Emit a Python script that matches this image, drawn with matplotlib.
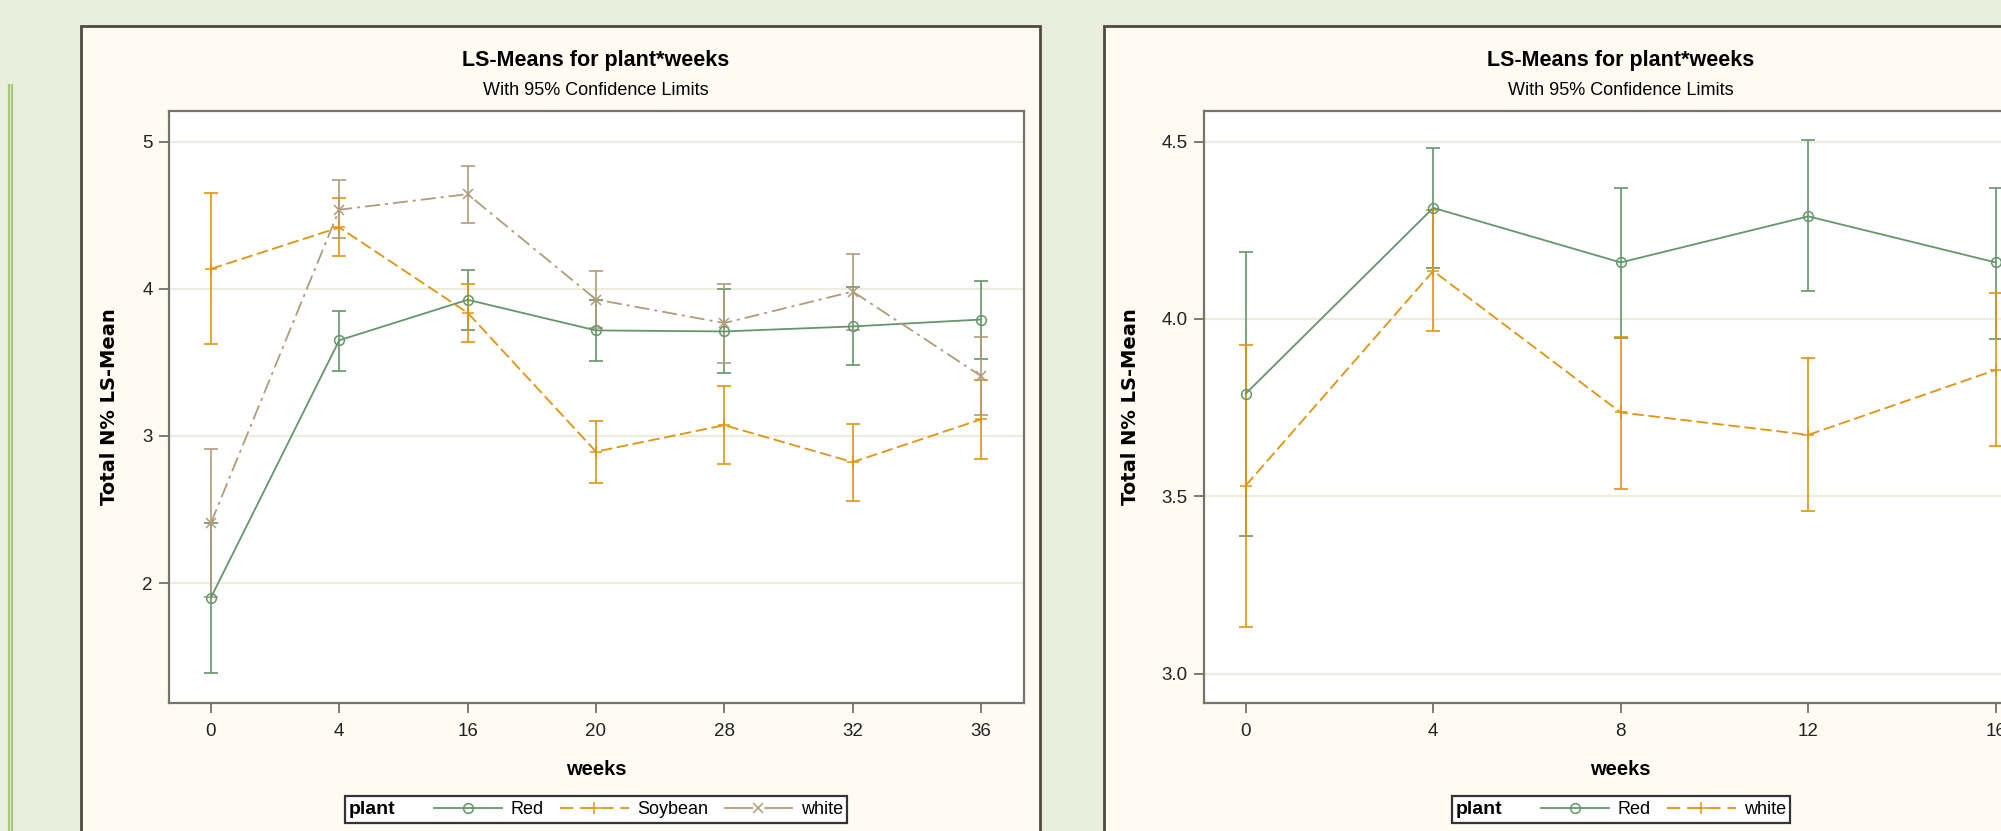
import matplotlib
matplotlib.use("Agg")
import matplotlib.pyplot as plt
from matplotlib.patches import Rectangle
from matplotlib.lines import Line2D
from matplotlib.offsetbox import DrawingArea

# ---- data ----
weeks_left = ["0", "4", "16", "20", "28", "32", "36"]
red_left = [1.90, 3.65, 3.925, 3.717, 3.71, 3.744, 3.791]
red_left_lo = [1.39, 3.441, 3.717, 3.509, 3.428, 3.479, 3.522]
red_left_hi = [2.41, 3.852, 4.130, 3.925, 3.995, 4.009, 4.056]
soy_left = [4.135, 4.417, 3.837, 2.893, 3.073, 2.822, 3.113]
soy_left_lo = [3.624, 4.225, 3.636, 2.678, 2.807, 2.556, 2.844]
soy_left_hi = [4.652, 4.618, 4.029, 3.103, 3.337, 3.084, 3.378]
white_left = [2.407, 4.537, 4.643, 3.927, 3.767, 3.981, 3.407]
white_left_lo = [1.906, 4.343, 4.444, 3.735, 3.498, 3.72, 3.141]
white_left_hi = [2.908, 4.742, 4.837, 4.119, 4.029, 4.239, 3.672]

weeks_right = ["0", "4", "8", "12", "16"]
red_right = [3.789, 4.313, 4.159, 4.289, 4.159]
red_right_lo = [3.389, 4.144, 3.945, 4.078, 3.942]
red_right_hi = [4.188, 4.481, 4.370, 4.504, 4.370]
white_right = [3.530, 4.135, 3.736, 3.673, 3.856]
white_right_lo = [3.131, 3.966, 3.521, 3.458, 3.641]
white_right_hi = [3.927, 4.306, 3.948, 3.889, 4.072]

# ---- style ----
plt.rcParams['font.family'] = ['Liberation Sans', 'DejaVu Sans']
plt.rcParams['lines.scale_dashes'] = False

BG = "#EAEEDD"
PANEL = "#FFFBF3"
FRAME = "#4F4A40"
SPINE = "#77746A"
GRID = "#EEECDD"
C_GREEN = "#64966B"
C_ORANGE = "#E3930F"
C_TAN = "#B09C7A"

# plot style + legend sample style per group
styles = {
    "Red": dict(color=C_GREEN, ls="-", leg_ls="-", marker="o", mfc="none", ms=7),
    "Soybean": dict(color=C_ORANGE, ls=(0, (8.3, 3.3)), leg_ls=(0, (9.5, 5)),
                    marker="+", mfc=C_ORANGE, ms=9),
    "white": dict(color=C_TAN, ls=(0, (10.8, 3.6, 2.2, 3.6)), leg_ls=(0, (21, 8)),
                  marker="x", mfc=C_TAN, ms=7),
}

fig = plt.figure(figsize=(20.01, 8.31), dpi=100)
fig.patch.set_facecolor(BG)

# decorative double line at far left
for xp in (8.5 / 2001, 11.7 / 2001):
    fig.add_artist(Line2D([xp, xp], [0, 1 - 85 / 831], transform=fig.transFigure,
                          color="#A9C77F", lw=1.6))

# panel frames
for x0, w in ((81 / 2001, 959 / 2001), (1104 / 2001, 0.5)):
    fig.add_artist(Rectangle((x0, -0.05), w, 1.05 - 26.3 / 831, transform=fig.transFigure,
                             facecolor=PANEL, edgecolor=FRAME, lw=2, zorder=0))


def draw_panel(rect, cats, series, yticks, ylim, ylabel_x, tick_fmt, leg_anchor):
    ax = fig.add_axes(rect)
    ax.set_facecolor("white")
    x = list(range(len(cats)))
    handles = []
    for name, mean, lo, hi, sty in series:
        err = [[m - l for m, l in zip(mean, lo)], [h - m for m, h in zip(mean, hi)]]
        ax.errorbar(x, mean, yerr=err, fmt="none", ecolor=sty["color"], elinewidth=1.2,
                    capsize=5, capthick=1.2, zorder=3)
        ax.plot(x, mean, color=sty["color"], ls=sty["ls"], lw=1.3, marker=sty["marker"],
                mfc=sty["mfc"], mec=sty["color"], ms=sty["ms"], mew=1.1, zorder=4)
        handles.append(Line2D([], [], color=sty["color"], ls=sty["leg_ls"], lw=1.3,
                              marker=sty["marker"], mfc=sty["mfc"], mec=sty["color"],
                              ms=sty["ms"], mew=1.1, label=name))

    pad = 0.33 if len(cats) > 5 else 0.225
    ax.set_xlim(-pad, len(cats) - 1 + pad)
    ax.set_ylim(*ylim)
    ax.set_xticks(x)
    ax.set_xticklabels(cats)
    ax.set_yticks(yticks)
    ax.set_yticklabels([tick_fmt.format(v) for v in yticks])
    ax.yaxis.grid(True, color=GRID, lw=1.6)
    ax.set_axisbelow(True)
    for sp in ax.spines.values():
        sp.set_color(SPINE)
        sp.set_linewidth(1.6)
    ax.tick_params(axis="both", colors="#5A574F", labelcolor="#222222", labelsize=13.5,
                   length=7.5, width=1.1)
    ax.tick_params(axis="x", pad=7)
    ax.tick_params(axis="y", pad=4)

    ax.set_xlabel("weeks", fontsize=14.5, fontweight="bold")
    ax.xaxis.set_label_coords(0.5, -0.112)
    ax.xaxis.label.set_va("center")
    ax.set_ylabel("Total N% LS-Mean", fontsize=14, fontweight="bold", family="DejaVu Sans")
    ax.yaxis.set_label_coords(ylabel_x, 0.5)
    ax.yaxis.label.set_va("center")

    ax.text(0.5, 1.0845, "LS-Means for plant*weeks", transform=ax.transAxes,
            ha="center", va="center", fontsize=15.5, fontweight="bold")
    ax.text(0.5, 1.0345, "With 95% Confidence Limits", transform=ax.transAxes,
            ha="center", va="center", fontsize=13)

    leg = fig.legend(handles=handles, title="plant", ncol=len(handles), loc="center",
                     bbox_to_anchor=leg_anchor, bbox_transform=fig.transFigure,
                     fontsize=13, title_fontproperties={"weight": "bold", "size": 14},
                     handlelength=3.8, handletextpad=0.45, columnspacing=0.9,
                     borderpad=0.25, fancybox=False, framealpha=1,
                     edgecolor="#333333", facecolor="white")
    leg.get_frame().set_linewidth(1.6)
    # put the legend title on the same row as the entries
    box = leg.get_children()[0]
    title_box, entries = box.get_children()[0], box.get_children()[1]
    box._children = [entries]
    entries._children.insert(0, title_box)
    entries._children.insert(1, DrawingArea(4, 1))
    return ax


draw_panel([168.5 / 2001, 128 / 831, 855 / 2001, 592 / 831], weeks_left,
           [("Red", red_left, red_left_lo, red_left_hi, styles["Red"]),
            ("Soybean", soy_left, soy_left_lo, soy_left_hi, styles["Soybean"]),
            ("white", white_left, white_left_lo, white_left_hi, styles["white"])],
           [2, 3, 4, 5], (1.185, 5.208), -0.069, "{:g}", (596 / 2001, 1 - 809.5 / 831))

draw_panel([1203.5 / 2001, 128 / 831, 834.5 / 2001, 592 / 831], weeks_right,
           [("Red", red_right, red_right_lo, red_right_hi, styles["Red"]),
            ("white", white_right, white_right_lo, white_right_hi, styles["Soybean"])],
           [3.0, 3.5, 4.0, 4.5], (2.917, 4.586), -0.0869, "{:.1f}", (1621 / 2001, 1 - 809.5 / 831))

fig.savefig("out.png", dpi=100, facecolor=BG)
